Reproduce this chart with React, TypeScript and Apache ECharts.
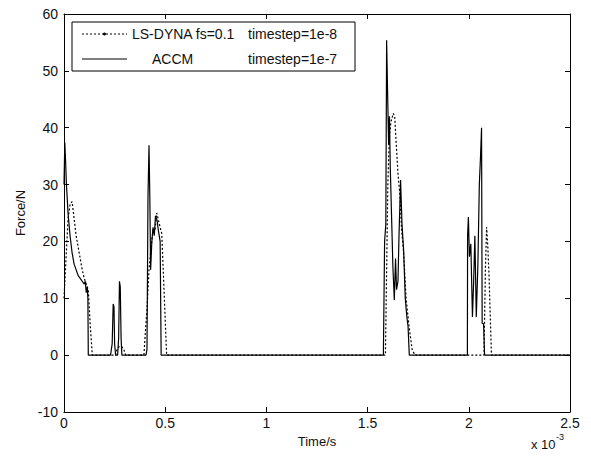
import React, { useEffect, useRef } from "react";
import * as echarts from "echarts";

// time in units of 1e-3 s, force in N
const accmTime = [
  0, 0.004, 0.008, 0.012, 0.02, 0.03, 0.04, 0.05, 0.06, 0.07, 0.08, 0.09, 0.1, 0.105, 0.11, 0.115, 0.118, 0.12,
  0.23, 0.238, 0.243, 0.247, 0.25, 0.255, 0.265, 0.27, 0.274, 0.278, 0.282, 0.286,
  0.405, 0.41, 0.415, 0.42, 0.424, 0.428, 0.434, 0.44, 0.446, 0.452, 0.46, 0.466, 0.475, 0.48,
  1.578, 1.584, 1.59, 1.594, 1.6, 1.604, 1.608, 1.612, 1.618, 1.625, 1.632, 1.638, 1.643, 1.65, 1.655, 1.663, 1.67, 1.678, 1.686, 1.694, 1.7, 1.706,
  1.993, 1.994, 1.998, 2.003, 2.01, 2.018, 2.024, 2.03, 2.037, 2.045, 2.052, 2.058, 2.063, 2.066, 2.073, 2.078,
  2.5,
];
const accmForce = [
  30, 37.4, 34, 30, 25, 21, 18, 16, 15, 14, 13.5, 13, 12.5, 13, 11, 12, 10, 0,
  0, 2, 9, 8.5, 2, 0, 0, 3, 13, 12, 3, 0,
  0, 1, 28, 36.9, 28, 15, 20, 22.5, 21, 24.5, 23.7, 22, 20, 0,
  0, 20, 23, 55.4, 44, 37, 42, 33, 25, 15.5, 9.7, 17, 11.5, 13, 20.8, 30.8, 23, 18.5, 10, 6.7, 5, 0,
  0, 21, 24.3, 17.3, 19.6, 6.7, 13, 21, 6.7, 16, 30, 35, 40, 5.6, 5.5, 0,
  0,
];
const dynaTime = [
  0, 0.01, 0.02, 0.03, 0.04, 0.05, 0.06, 0.07, 0.08, 0.09, 0.1, 0.11, 0.12, 0.13, 0.14,
  0.255, 0.262, 0.272, 0.285, 0.295, 0.305,
  0.395, 0.4, 0.41, 0.42, 0.43, 0.44, 0.45, 0.458, 0.465, 0.475, 0.483, 0.507,
  1.588, 1.592, 1.6, 1.607, 1.615, 1.627, 1.634, 1.64, 1.65, 1.66, 1.668, 1.678, 1.69, 1.705, 1.72, 1.734,
  2.075, 2.082, 2.088, 2.094, 2.1, 2.105, 2.112,
  2.5,
];
const dynaForce = [
  10, 17, 24, 26.5, 27, 24, 21, 19, 17, 15, 13.5, 12.5, 11.5, 5, 0,
  0, 1, 1.5, 1.5, 1, 0,
  0, 3, 8, 15, 19, 22, 22, 25, 24, 22.5, 21.4, 0,
  0, 10, 30, 38, 41, 42.5, 42, 38, 32, 28, 22, 18, 10, 5, 1, 0,
  0, 15, 22.5, 19, 14, 8, 0,
  0,
];
const xTicks = [0, 0.5, 1, 1.5, 2, 2.5];
const yTicks = [-10, 0, 10, 20, 30, 40, 50, 60];

const legendNames = ["LS-DYNA fs=0.1", "ACCM"];
const legendSteps = ["timestep=1e-8", "timestep=1e-7"];

const FONT = "'Liberation Sans', Arial, sans-serif";

export default function App() {
  const ref = useRef<HTMLDivElement>(null);
  useEffect(() => {
    if (!ref.current) return;
    const chart = echarts.init(ref.current, null, { renderer: "svg" });
    const accm = accmTime.map((t, i) => [t, accmForce[i]]);
    const dyna = dynaTime.map((t, i) => [t, dynaForce[i]]);
    const axisCommon = {
      type: "value" as const,
      splitLine: { show: false },
      axisLine: { show: true, onZero: false, lineStyle: { color: "#000", width: 1 } },
      axisTick: { show: true, inside: true, length: 5, lineStyle: { color: "#000" } },
    };
    const labelStyle = { color: "#111", fontSize: 14, fontFamily: FONT };
    chart.setOption({
      animation: false,
      backgroundColor: "#fff",
      grid: { left: 64, right: 21, top: 14, bottom: 47, containLabel: false },
      xAxis: [
        {
          ...axisCommon,
          min: xTicks[0],
          max: xTicks[xTicks.length - 1],
          interval: 0.5,
          position: "bottom",
          axisLabel: { ...labelStyle, margin: 4, formatter: (v: number) => String(v) },
          name: "Time/s",
          nameLocation: "middle",
          nameGap: 21,
          nameTextStyle: { ...labelStyle, fontSize: 13 },
        },
        {
          ...axisCommon,
          min: xTicks[0],
          max: xTicks[xTicks.length - 1],
          interval: 0.5,
          position: "top",
          axisLabel: { show: false },
        },
      ],
      yAxis: [
        {
          ...axisCommon,
          min: yTicks[0],
          max: yTicks[yTicks.length - 1],
          interval: 10,
          position: "left",
          axisLabel: { ...labelStyle, margin: 6 },
          name: "Force/N",
          nameLocation: "middle",
          nameGap: 34,
          nameRotate: 90,
          nameTextStyle: { ...labelStyle, fontSize: 13 },
        },
        {
          ...axisCommon,
          min: yTicks[0],
          max: yTicks[yTicks.length - 1],
          interval: 10,
          position: "right",
          axisLabel: { show: false },
        },
      ],
      series: [
        {
          name: "LS-DYNA",
          type: "line",
          data: dyna,
          showSymbol: false,
          lineStyle: { color: "#000", width: 1.2, type: [2, 2] },
          z: 2,
        },
        {
          name: "ACCM",
          type: "line",
          data: accm,
          showSymbol: false,
          lineStyle: { color: "#000", width: 1.2 },
          z: 3,
        },
      ],
      graphic: [
        {
          type: "rect",
          shape: { x: 72, y: 22, width: 283, height: 49 },
          style: { fill: "#fff", stroke: "#000", lineWidth: 1 },
          z: 10,
        },
        {
          type: "line",
          shape: { x1: 82, y1: 34, x2: 127, y2: 34 },
          style: { stroke: "#000", lineWidth: 1.2, lineDash: [2, 2] },
          z: 11,
        },
        {
          type: "circle",
          shape: { cx: 104.5, cy: 34, r: 1.5 },
          style: { fill: "#000" },
          z: 11,
        },
        {
          type: "line",
          shape: { x1: 82, y1: 59, x2: 127, y2: 59 },
          style: { stroke: "#000", lineWidth: 1.2 },
          z: 11,
        },
        {
          type: "text",
          x: 132,
          y: 34,
          style: { text: legendNames[0], fill: "#111", font: `14px ${FONT}`, verticalAlign: "middle" },
          z: 11,
        },
        {
          type: "text",
          x: 248,
          y: 34,
          style: { text: legendSteps[0], fill: "#111", font: `14px ${FONT}`, verticalAlign: "middle" },
          z: 11,
        },
        {
          type: "text",
          x: 152,
          y: 59,
          style: { text: legendNames[1], fill: "#111", font: `14px ${FONT}`, verticalAlign: "middle" },
          z: 11,
        },
        {
          type: "text",
          x: 248,
          y: 59,
          style: { text: legendSteps[1], fill: "#111", font: `14px ${FONT}`, verticalAlign: "middle" },
          z: 11,
        },
        {
          type: "text",
          x: 531,
          y: 444,
          style: { text: "x 10", fill: "#111", font: `13px ${FONT}`, verticalAlign: "middle" },
        },
        {
          type: "text",
          x: 556,
          y: 437,
          style: { text: "-3", fill: "#111", font: `9px ${FONT}`, verticalAlign: "middle" },
        },
      ],
    });
    return () => chart.dispose();
  }, []);
  return <div ref={ref} style={{ width: 591, height: 459, position: "absolute", left: 0, top: 0 }} />;
}
